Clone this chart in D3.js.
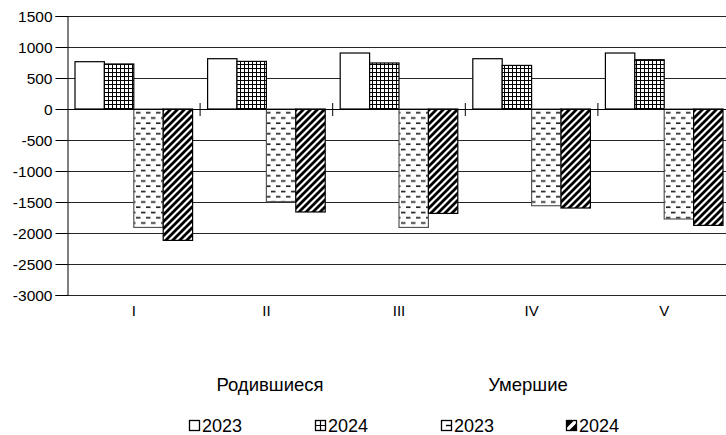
<!DOCTYPE html>
<html><head><meta charset="utf-8">
<script src="https://cdn.jsdelivr.net/npm/d3@7"></script>
<style>body{margin:0;background:#fff}svg{display:block;font-family:"Liberation Sans",Arial,sans-serif}</style>
</head><body><svg id="c" width="726" height="435"></svg>
<script>
const categories = ["I","II","III","IV","V"];
const births2023 = [763, 811, 903, 811, 903];
const births2024 = [726, 768, 742, 703, 795];
const deaths2023 = [-1910, -1495, -1910, -1560, -1774];
const deaths2024 = [-2119, -1661, -1684, -1597, -1877];
const yTicks = [1500,1000,500,0,-500,-1000,-1500,-2000,-2500,-3000];
const groupLabels = ["Родившиеся","Умершие"];
const seriesLabels = ["2023","2024","2023","2024"];

const series = [
  {key:"b23", values:births2023, fill:"#fff"},
  {key:"b24", values:births2024, fill:"url(#pGrid)"},
  {key:"d23", values:deaths2023, fill:"url(#pDash)"},
  {key:"d24", values:deaths2024, fill:"url(#pDiag)"}
];

const svg = d3.select("#c");
const L = 67.5, T = 16, B = 295, band = 132.6;
const x0 = d3.scaleBand().domain(categories).range([L, L + band*categories.length]).padding(0);
const x1 = d3.scaleBand().domain(series.map(s=>s.key)).range([7.5, band-7.5]).padding(0);
const y = d3.scaleLinear().domain([-3000,1500]).range([B,T]);

const defs = svg.append("defs");
const pg = defs.append("pattern").attr("id","pGrid").attr("patternUnits","userSpaceOnUse").attr("width",4).attr("height",4);
pg.append("rect").attr("width",4).attr("height",4).attr("fill","#fff");
pg.append("path").attr("d","M0,0.5H4M0.5,0V4").attr("stroke","#000").attr("stroke-width",1);
const pd = defs.append("pattern").attr("id","pDash").attr("patternUnits","userSpaceOnUse").attr("width",10).attr("height",10.5);
pd.append("rect").attr("width",10).attr("height",10.5).attr("fill","#fff");
pd.append("path").attr("d","M1,2.5H5.5M6,7.75H10.5M-4,7.75H0.5").attr("stroke","#222").attr("stroke-width",1.5);
const pdi = defs.append("pattern").attr("id","pDiag").attr("patternUnits","userSpaceOnUse").attr("width",7).attr("height",7);
pdi.append("rect").attr("width",7).attr("height",7).attr("fill","#fff");
pdi.append("path").attr("d","M-1,8L8,-1M-4.5,4.5L4.5,-4.5M2.5,11.5L11.5,2.5").attr("stroke","#000").attr("stroke-width",2.8);

// gridlines
svg.append("g").selectAll("line").data(yTicks).join("line")
  .attr("x1",L).attr("x2",726).attr("y1",d=>Math.round(y(d))+0.5).attr("y2",d=>Math.round(y(d))+0.5)
  .attr("stroke","#000").attr("stroke-width",1).attr("stroke-opacity",0.85);

// y axis
const ya = svg.append("g").attr("transform",`translate(${L},0)`)
  .call(d3.axisLeft(y).tickValues(yTicks).tickSize(12).tickPadding(3).tickFormat(d=>String(d)));
ya.select(".domain").attr("stroke","#000");
ya.selectAll("text").attr("font-size",15.5).attr("fill","#000").attr("dy","0.35em");

// bars
const g = svg.append("g");
series.forEach(s=>{
  g.selectAll(null).data(s.values).join("rect")
    .attr("x",(d,i)=>x0(categories[i])+x1(s.key))
    .attr("width",x1.bandwidth())
    .attr("y",d=>y(Math.max(0,d)))
    .attr("height",d=>Math.abs(y(d)-y(0)))
    .attr("fill",s.fill).attr("stroke", s.key==="d23" ? "#555" : "#000").attr("stroke-width",1.2);
});

// x axis at zero with cross ticks at band boundaries
const y0 = Math.round(y(0))+0.5;
svg.append("line").attr("x1",L).attr("x2",726).attr("y1",y0).attr("y2",y0).attr("stroke","#000");
svg.append("g").selectAll("line").data(categories.slice(1)).join("line")
  .attr("x1",d=>x0(d)).attr("x2",d=>x0(d)).attr("y1",y0-6.5).attr("y2",y0+6.5).attr("stroke","#000");

// category labels
svg.append("g").selectAll("text").data(categories).join("text")
  .attr("x",d=>x0(d)+band/2).attr("y",316).attr("text-anchor","middle")
  .attr("font-size",15).attr("fill","#000").text(d=>d);

// legend group titles
const gx = [270, 528];
svg.append("g").selectAll("text").data(groupLabels).join("text")
  .attr("x",(d,i)=>gx[i]).attr("y",391).attr("text-anchor","middle")
  .attr("font-size",18.5).attr("fill","#000").text(d=>d);

// legend items
const lx = [189, 315, 441, 566];
const leg = svg.append("g");
series.forEach((s,i)=>{
  const it = leg.append("g").attr("transform",`translate(${lx[i]},420)`);
  it.append("rect").attr("x",0.5).attr("y",0.5).attr("width",10).attr("height",10).attr("fill","#fff").attr("stroke","#000").attr("stroke-width",1.3);
  if(s.key==="b24"){
    it.append("path").attr("d","M5.5,0.5V10.5M0.5,5.5H10.5").attr("stroke","#000").attr("stroke-width",1.2);
  } else if(s.key==="d23"){
    it.append("path").attr("d","M5,5.5H10.5").attr("stroke","#000").attr("stroke-width",1.4);
  } else if(s.key==="d24"){
    it.append("path").attr("d","M0.5,0.5H8L0.5,8Z M3,10.5L10.5,3V10.5Z").attr("fill","#000");
  }
  it.append("text").attr("x",13).attr("y",11.5).attr("font-size",18).attr("fill","#000").text(seriesLabels[i]);
});
</script></body></html>
